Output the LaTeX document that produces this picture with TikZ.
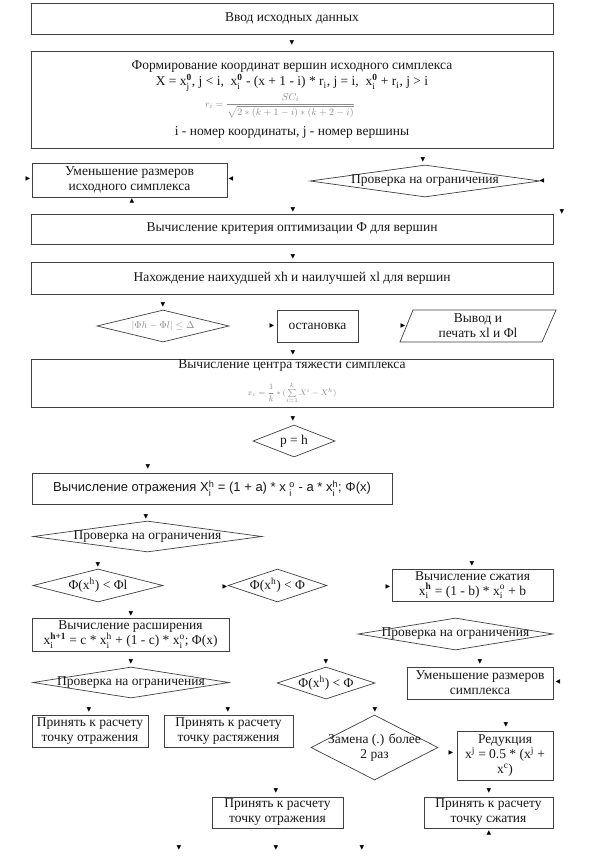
\documentclass[tikz,border=0pt]{standalone}
\usepackage{fontspec}
\usepackage{amsmath}
\setmainfont{Liberation Serif}
\newfontfamily\sansf{Liberation Sans}
\newfontfamily\symf{DejaVu Sans}
\usetikzlibrary{shapes.geometric}
\newcommand\supsub[2]{$^{\text{#1}}_{\text{#2}}$}
\tikzset{
  base/.style={font=\fontsize{13.5}{15}\selectfont, text=black!90},
  box/.style={base, draw=black!75, line width=0.7pt, rectangle, inner sep=0pt, align=center},
  dia/.style={draw=black!75, line width=0.7pt, diamond, inner sep=0pt},
  lbl/.style={base, align=center, inner sep=0pt},
  gform/.style={text=black!45, inner sep=0pt},
  sz/.style 2 args={minimum width=#1pt, minimum height=#2pt},
  ah/.style={font=\symf\fontsize{6}{6}\selectfont, inner sep=0pt, text=black},
}
\begin{document}
\begin{tikzpicture}[x=1pt,y=-1pt]
\useasboundingbox[fill=white] (0,0) rectangle (600,864);
% top boxes
\node[box, sz={522}{31}] (b1) at (292,18.5) {Ввод исходных данных};
\node[box, sz={522}{97}] (b2) at (292,99.5) {};
\node[lbl] (t2a) at (292,67) {Формирование координат вершин исходного симплекса};
\node[lbl] (t2b) at (292,83) {X = x\supsub{\textbf{0}}{j}, j < i,\ \ x\supsub{\textbf{0}}{i} - (x + 1 - i) * r\textsubscript{i}, j = i,\ \ x\supsub{\textbf{0}}{i} + r\textsubscript{i}, j > i};
\node[gform, font=\fontsize{10}{11}\selectfont] (f2) at (280,106) {$r_i = \dfrac{SC_i}{\sqrt{2*(k+1-i)*(k+2-i)}}$};
\node[lbl] (t2d) at (292,132) {i - номер координаты, j - номер вершины};
% row 3
\node[box, sz={195}{34}] (b3) at (129.5,180) {Уменьшение размеров\\исходного симплекса};
\node[dia, sz={230}{32}] (d1) at (425,181) {};
\node[lbl] at (d1) {Проверка на ограничения};
\node[box, sz={522}{30}] (b4) at (292,229) {Вычисление критерия оптимизации Ф для вершин};
\node[box, sz={522}{32}] (b5) at (292,278) {Нахождение наихудшей xh и наилучшей xl для вершин};
% row stop
\node[dia, sz={132}{32}] (d2) at (163,326) {};
\node[gform, font=\fontsize{10}{11}\selectfont] at (d2) {$\lvert\Phi h - \Phi l\rvert \le \Delta$};
\node[box, sz={81}{32}] (b6) at (317.5,326) {остановка};
\draw[draw=black!75, line width=0.7pt] (400,342) -- (413,310) -- (556,310) -- (542,342) -- cycle;
\node[lbl] (p1) at (478,326) {Вывод и\\печать xl и Φl};
% centre
\node[box, sz={522}{48}] (b7) at (292,383) {};
\node[lbl] (t7) at (292,366) {Вычисление центра тяжести симплекса};
\node[gform, font=\fontsize{8.5}{9}\selectfont] (f7) at (292,393) {$x_c = \dfrac{1}{k} * (\sum\limits_{i=1}^{k} X^i - X^h)$};
\node[dia, sz={82}{32}] (d3) at (294,441) {};
\node[lbl] at (d3) {p = h};
% reflection
\node[box, sz={360}{31}, font=\sansf\fontsize{13}{15}\selectfont] (b8) at (212,488.5) {Вычисление отражения X\supsub{h}{i} = (1 + a) * x \supsub{o}{i} - a * x\supsub{h}{i}; Φ(x)};
\node[dia, sz={229}{31}] (d4) at (147.5,536.5) {};
\node[lbl] at (d4) {Проверка на ограничения};
\node[dia, sz={130}{33}] (d5) at (98,585.5) {};
\node[lbl] at (d5) {Φ(x\textsuperscript{h}) < Φl};
\node[dia, sz={99}{33}] (d6) at (277.5,585.5) {};
\node[lbl] at (d6) {Φ(x\textsuperscript{h}) < Φ};
\node[box, sz={161}{32}] (b9) at (472.5,585) {Вычисление сжатия\\x\supsub{\textbf{h}}{i} = (1 - b) * x\supsub{o}{i} + b};
\node[box, sz={197}{33}] (b10) at (130.5,634.5) {Вычисление расширения\\x\supsub{\textbf{h+1}}{i} = c * x\supsub{h}{i} + (1 - c) * x\supsub{o}{i}; Φ(x)};
\node[dia, sz={195}{32}] (d7) at (455.5,634) {};
\node[lbl] at (d7) {Проверка на ограничения};
\node[dia, sz={196}{31}] (d8) at (131,682.5) {};
\node[lbl] at (d8) {Проверка на ограничения};
\node[dia, sz={98}{32}] (d9) at (326,683) {};
\node[lbl] at (d9) {Φ(x\textsuperscript{h}) < Φ};
\node[box, sz={146}{32}] (b11) at (480,683) {Уменьшение размеров\\симплекса};
\node[box, sz={116}{32}] (b12) at (90,731) {Принять к расчету\\точку отражения};
\node[box, sz={129}{32}] (b13) at (228.5,731) {Принять к расчету\\точку растяжения};
\node[dia, sz={127}{65}] (d10) at (374.5,747.5) {};
\node[lbl] at (d10) {Замена (.) более\\2 раз};
\node[box, sz={96}{49}] (b14) at (505,755.5) {Редукция\\x\textsuperscript{j} = 0.5 * (x\textsuperscript{j} +\\x\textsuperscript{c})};
\node[box, sz={131}{31}] (b15) at (277.5,812.5) {Принять к расчету\\точку отражения};
\node[box, sz={129}{31}] (b16) at (488.5,812.5) {Принять к расчету\\точку сжатия};
% arrowheads
\foreach \p [count=\k] in {(292,43),(423,160),(293,210),(562,212),(293,257),(163,305),(293,353),(293,419),(148,467),(146,517),(98,565),(472,564),(131,614),(131,662),(326,662),(480,662),(89,710),(228,710),(375,710),(506,725),(276,791),(489,791),(179,848),(276,848),(362,848)}
  \node[ah] (ad\k) at \p {▼};
\foreach \p [count=\k] in {(28,179),(272,326),(403,326),(225,587),(388,587),(451,753)}
  \node[ah] (ar\k) at \p {▶};
\foreach \p [count=\k] in {(231,179),(542,181),(558,682)}
  \node[ah] (al\k) at \p {◀};
\foreach \p [count=\k] in {(132,201),(489,833)}
  \node[ah] (au\k) at \p {▲};
\end{tikzpicture}
\end{document}
